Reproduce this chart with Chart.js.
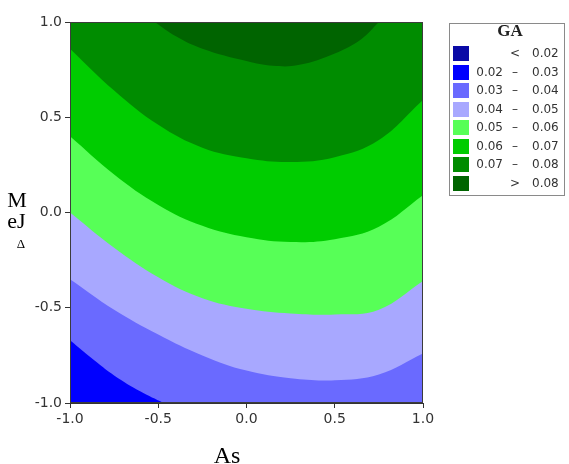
<!DOCTYPE html>
<html>
<head>
<meta charset="utf-8">
<script src="https://cdn.jsdelivr.net/npm/chart.js@4"></script>
<style>
    body { margin: 0; background: #fff; }
    #wrap { position: relative; width: 569px; height: 464px; }
    .axis-title { position: absolute; font-family: 'Liberation Serif', serif; color: #000; white-space: nowrap; text-align: center; }
    #legend { position: absolute; left: 449px; top: 23px; width: 116px; height: 173px; box-sizing: border-box; border: 1px solid #8a8a8a; background: #fff; }
    #legend .title { position: absolute; left: 45px; top: -2px; width: 30px; text-align: center; font: bold 17px/17px 'Liberation Serif', serif; color: #222; }
    #legend .swatch { position: absolute; left: 3px; width: 16px; height: 15px; }
    #legend .txt { position: absolute; height: 15px; font: 12px/15px 'DejaVu Sans', sans-serif; color: #333; white-space: nowrap; }
</style>
</head>
<body>
<div id="wrap">
    <canvas id="gaChart" width="569" height="464"></canvas>
    <div class="axis-title" style="left:205px; top:443px; width:44px; font-size:24px; line-height:24px;">As</div>
    <div class="axis-title" style="left:2px; top:189px; width:30px; font-size:22px; line-height:22px;">M</div>
    <div class="axis-title" style="left:2px; top:210px; width:29px; font-size:22px; line-height:22px;">eJ</div>
    <div class="axis-title" style="left:11px; top:237px; width:20px; font-size:13px; line-height:13px;">Δ</div>
    <div id="legend"><div class="title">GA</div></div>
</div>

<script>
// ============== DATA ==============

// x positions (As) where the contour lines were read
const asX = [-1, -0.75, -0.5, -0.25, 0, 0.25, 0.5, 0.75, 1];

// y (ΔJeM) of each contour line at asX
const ga04 = [-0.35, -0.51, -0.64, -0.75, -0.83, -0.87, -0.88, -0.85, -0.74];
const ga05 = [0.0, -0.185, -0.34, -0.45, -0.505, -0.53, -0.535, -0.51, -0.36];
const ga06 = [0.40, 0.20, 0.04, -0.07, -0.13, -0.155, -0.14, -0.075, 0.09];
const ga07 = [0.86, 0.64, 0.46, 0.34, 0.285, 0.265, 0.29, 0.38, 0.59];

// the 0.03 and 0.08 lines only cross part of the plot
const ga03X = [-1, -0.85, -0.75, -0.6, -0.47];
const ga03Y = [-0.67, -0.785, -0.855, -0.94, -1];
const ga08X = [-0.52, -0.4, -0.25, 0, 0.15, 0.3, 0.5, 0.65, 0.75];
const ga08Y = [1, 0.925, 0.86, 0.795, 0.77, 0.775, 0.835, 0.91, 1];

// axis ticks
const axisTicks = [-1, -0.5, 0, 0.5, 1];

// legend classes
const legendLow = ['', '0.02', '0.03', '0.04', '0.05', '0.06', '0.07', ''];
const legendSign = ['<', '–', '–', '–', '–', '–', '–', '>'];
const legendHigh = ['0.02', '0.03', '0.04', '0.05', '0.06', '0.07', '0.08', '0.08'];
const legendColors = ['#0a0aa6', '#0000ff', '#6a6aff', '#a8a8ff', '#57ff57', '#00cc00', '#008c00', '#006400'];

// ============== CHART ==============

document.addEventListener('DOMContentLoaded', () => {
    buildLegend();
    initializeChart();
});

// Turn two arrays into {x, y} points
function toPoints(xs, ys) {
    return xs.map((x, i) => ({ x: x, y: ys[i] }));
}

// One contour line, filled towards the top ('end') or bottom ('start')
function contour(xs, ys, color, fill, order) {
    return {
        data: toPoints(xs, ys),
        backgroundColor: color,
        borderWidth: 0,
        pointRadius: 0,
        fill: fill,
        order: order,
        tension: 0.4
    };
}

// Plot background and frame
const plotFrame = {
    id: 'plotFrame',
    beforeDatasetsDraw(chart) {
        const a = chart.chartArea;
        const ctx = chart.ctx;
        ctx.save();
        ctx.fillStyle = legendColors[2];
        ctx.fillRect(a.left, a.top, a.right - a.left, a.bottom - a.top);
        ctx.restore();
    },
    afterDatasetsDraw(chart) {
        const a = chart.chartArea;
        const ctx = chart.ctx;
        ctx.save();
        ctx.strokeStyle = '#3c3c3c';
        ctx.lineWidth = 1;
        ctx.strokeRect(a.left + 0.5, a.top + 0.5, a.right - a.left - 1, a.bottom - a.top - 1);
        ctx.restore();
    }
};

function initializeChart() {
    const ctx = document.getElementById('gaChart').getContext('2d');

    const tickFont = { family: 'DejaVu Sans', size: 14 };

    new Chart(ctx, {
        type: 'line',
        data: {
            datasets: [
                contour(ga08X, ga08Y, legendColors[7], 'end', 1),
                contour(asX, ga07, legendColors[6], 'end', 2),
                contour(asX, ga06, legendColors[5], 'end', 3),
                contour(asX, ga05, legendColors[4], 'end', 4),
                contour(asX, ga04, legendColors[3], 'end', 5),
                contour(ga03X, ga03Y, legendColors[1], 'start', 6)
            ]
        },
        options: {
            responsive: false,
            animation: false,
            events: [],
            layout: { padding: { left: 0, right: 146, top: 22, bottom: 0 } },
            plugins: {
                legend: { display: false },
                tooltip: { enabled: false }
            },
            scales: {
                x: {
                    type: 'linear',
                    min: -1,
                    max: 1,
                    afterFit: (s) => { s.height = 61; },
                    afterBuildTicks: (s) => { s.ticks = axisTicks.map(v => ({ value: v })); },
                    ticks: {
                        font: tickFont,
                        color: '#333',
                        padding: 3,
                        maxRotation: 0,
                        callback: (v) => v.toFixed(1)
                    },
                    grid: { drawOnChartArea: false, tickLength: 5, color: '#333' },
                    border: { color: '#333' }
                },
                y: {
                    type: 'linear',
                    min: -1,
                    max: 1,
                    afterFit: (s) => { s.width = 70; },
                    afterBuildTicks: (s) => { s.ticks = axisTicks.map(v => ({ value: v })); },
                    ticks: {
                        font: tickFont,
                        color: '#333',
                        padding: 3,
                        callback: (v) => v.toFixed(1)
                    },
                    grid: { drawOnChartArea: false, tickLength: 5, color: '#333' },
                    border: { color: '#333' }
                }
            }
        },
        plugins: [plotFrame]
    });
}

// Legend box with the GA classes
function buildLegend() {
    const box = document.getElementById('legend');
    legendColors.forEach((color, i) => {
        const top = 53.5 + 18.55 * i - 7.5 - 24;

        const sw = document.createElement('div');
        sw.className = 'swatch';
        sw.style.top = top + 'px';
        sw.style.background = color;
        box.appendChild(sw);

        const low = document.createElement('span');
        low.className = 'txt';
        low.style.cssText = `left:20px; top:${top}px; width:33px; text-align:right;`;
        low.textContent = legendLow[i];
        box.appendChild(low);

        const sign = document.createElement('span');
        sign.className = 'txt';
        sign.style.cssText = `left:58px; top:${top}px; width:14px; text-align:center;`;
        sign.textContent = legendSign[i];
        box.appendChild(sign);

        const high = document.createElement('span');
        high.className = 'txt';
        high.style.cssText = `left:82px; top:${top}px;`;
        high.textContent = legendHigh[i];
        box.appendChild(high);
    });
}
</script>
</body>
</html>
